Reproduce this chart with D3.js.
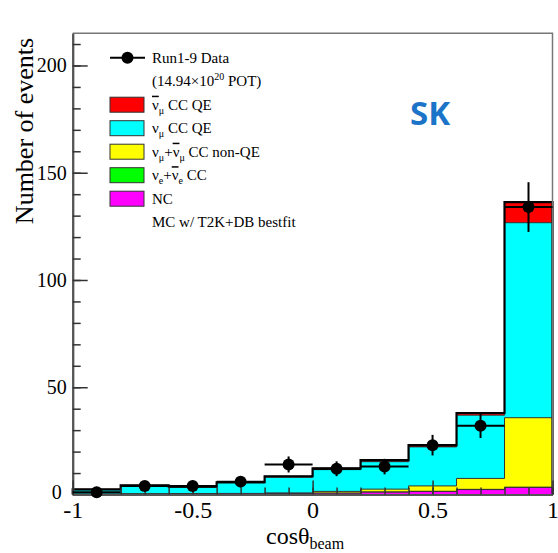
<!DOCTYPE html>
<html>
<head>
<meta charset="utf-8">
<script src="https://cdn.jsdelivr.net/npm/d3@7"></script>
<style>
  body { margin: 0; background: #fff; }
  svg text { font-family: "Liberation Serif", "Times New Roman", serif; }
</style>
</head>
<body>
<div id="chart"></div>
<script>
// bin edges in cos(theta_beam)
var binEdges = [-1, -0.8, -0.6, -0.4, -0.2, 0, 0.2, 0.4, 0.6, 0.8, 1];

// MC components per bin (not stacked), bottom to top
var ncVals      = [0.1, 0.2, 0.2, 0.3, 0.4, 0.6, 1.1, 1.4, 2.3, 3.3];
var nueVals     = [0, 0, 0, 0, 0.05, 0.05, 0.1, 0.1, 0.1, 0.1];
var nonQEVals   = [0.1, 0.1, 0.2, 0.2, 0.3, 0.8, 1.3, 2.5, 5.1, 32.4];
var numuQEVals  = [2.0, 3.7, 3.0, 4.9, 7.25, 10.15, 12.8, 18.2, 29.5, 90.9];
var numubQEVals = [0.2, 0.3, 0.3, 0.3, 0.5, 0.6, 0.7, 0.8, 1.0, 9.6];

// data points
var dataCounts = [1, 4, 4, 6, 14, 12, 13, 23, 32, 134];
var dataErrors = [1, 2, 2, 2.45, 3.74, 3.46, 3.61, 4.8, 5.66, 11.58];

var xTicks = [-1, -0.5, 0, 0.5, 1];
var yTicks = [0, 50, 100, 150, 200];

var width = 558, height = 553;

var x = d3.scaleLinear().domain([-1, 1]).range([72.7, 552.5]);
var y = d3.scaleLinear().domain([0, 215]).range([494.5, 33.3]);

var svg = d3.select("#chart").append("svg")
    .attr("width", width)
    .attr("height", height);

// stack the components
var layers = [
    {vals: ncVals, color: "#ff00ff"},
    {vals: nueVals, color: "#00ff00"},
    {vals: nonQEVals, color: "#ffff00"},
    {vals: numuQEVals, color: "#00ffff"},
    {vals: numubQEVals, color: "#ff0000"}
];
var running = binEdges.slice(1).map(function() { return 0; });
layers.forEach(function(l) {
    l.cum = running.map(function(r, i) { return r + l.vals[i]; });
    running = l.cum;
});

function stepPoints(cum) {
    var pts = [];
    for (var i = 0; i < cum.length; i++) {
        pts.push([binEdges[i], cum[i]]);
        pts.push([binEdges[i + 1], cum[i]]);
    }
    return pts;
}

var area = d3.area()
    .x(function(d) { return x(d[0]); })
    .y0(y(0))
    .y1(function(d) { return y(d[1]); });

var line = d3.line()
    .x(function(d) { return x(d[0]); })
    .y(function(d) { return y(d[1]); });

var hist = svg.append("g");
// draw from the top cumulative down so lower layers sit in front
layers.slice().reverse().forEach(function(l) {
    hist.append("path")
        .attr("d", area(stepPoints(l.cum)))
        .attr("fill", l.color)
        .attr("stroke", "#333")
        .attr("stroke-width", 1);
});

// total outline
var total = layers[layers.length - 1].cum;
var outline = [[binEdges[0], 0]].concat(stepPoints(total)).concat([[binEdges[binEdges.length - 1], 0]]);
hist.append("path")
    .attr("d", line(outline))
    .attr("fill", "none")
    .attr("stroke", "#000")
    .attr("stroke-width", 2.2);

// frame: top and right
svg.append("path")
    .attr("d", "M" + x(-1) + "," + y(215) + "H" + x(1) + "V" + y(0))
    .attr("fill", "none")
    .attr("stroke", "#777")
    .attr("stroke-width", 1.5);

// y axis
var yMajor = d3.axisLeft(y).tickValues(yTicks).tickSizeInner(-15).tickSizeOuter(0)
    .tickPadding(6).tickFormat(function(d) { return String(d); });
var yMinor = d3.axisLeft(y).tickValues(d3.range(0, 215, 10)).tickSizeInner(-8).tickSizeOuter(0)
    .tickFormat("");

var gy = svg.append("g").attr("transform", "translate(" + x(-1) + ",0)").call(yMajor);
svg.append("g").attr("transform", "translate(" + x(-1) + ",0)").call(yMinor);
gy.attr("font-family", null).attr("font-size", null);
gy.selectAll("text")
    .style("font-family", "'Liberation Serif', serif")
    .style("font-size", "20px")
    .attr("fill", "#000");
// keep the "0" clear of the "-1" below it
gy.selectAll(".tick").filter(function(d) { return d === 0; }).select("text")
    .attr("x", -11).attr("dy", "0.2em");

// x axis
var xMajor = d3.axisBottom(x).tickValues(xTicks).tickSizeInner(-14).tickSizeOuter(0)
    .tickPadding(6).tickFormat(function(d) { return String(d); });
var xMinor = d3.axisBottom(x).tickValues(d3.range(-10, 11).map(function(i) { return i / 10; }))
    .tickSizeInner(-7).tickSizeOuter(0).tickFormat("");

var gx = svg.append("g").attr("transform", "translate(0," + y(0) + ")").call(xMajor);
svg.append("g").attr("transform", "translate(0," + y(0) + ")").call(xMinor);
gx.attr("font-family", null).attr("font-size", null);
gx.selectAll("text")
    .style("font-family", "'Liberation Serif', serif")
    .style("font-size", "24px")
    .attr("fill", "#000");

svg.selectAll(".domain").attr("stroke", "#555").attr("stroke-width", 2);
svg.selectAll(".tick line").attr("stroke", "#333").attr("stroke-width", 1.5);

// axis titles
svg.append("text")
    .attr("transform", "translate(33,131) rotate(-90)")
    .attr("text-anchor", "middle")
    .style("font-size", "26px")
    .text("Number of events");

var xt = svg.append("text")
    .attr("x", 266)
    .attr("y", 544)
    .style("font-size", "24px");
xt.append("tspan").text("cos\u03b8");
xt.append("tspan").attr("dy", 5).style("font-size", "16px").text("beam");

// data points
var binCenters = dataCounts.map(function(d, i) { return (binEdges[i] + binEdges[i + 1]) / 2; });
var pts = svg.append("g");
dataCounts.forEach(function(c, i) {
    pts.append("line")
        .attr("x1", x(binEdges[i])).attr("x2", x(binEdges[i + 1]))
        .attr("y1", y(c)).attr("y2", y(c))
        .attr("stroke", "#000").attr("stroke-width", 2);
    pts.append("line")
        .attr("x1", x(binCenters[i])).attr("x2", x(binCenters[i]))
        .attr("y1", y(c - dataErrors[i])).attr("y2", y(c + dataErrors[i]))
        .attr("stroke", "#000").attr("stroke-width", 2);
    pts.append("circle")
        .attr("cx", x(binCenters[i])).attr("cy", y(c))
        .attr("r", 6).attr("fill", "#000");
});

// legend
var legend = svg.append("g").style("font-size", "15px");
var rowY = [57.7, 81.2, 104.7, 128.2, 151.7, 175.2, 198.7, 222.2];
var textX = 152;

legend.append("line")
    .attr("x1", 110).attr("x2", 145).attr("y1", rowY[0]).attr("y2", rowY[0])
    .attr("stroke", "#000").attr("stroke-width", 2);
legend.append("circle").attr("cx", 127.5).attr("cy", rowY[0]).attr("r", 6).attr("fill", "#000");

function legText(row) {
    return legend.append("text").attr("x", textX).attr("y", rowY[row] + 5);
}
function nu(t, sub, bar) {
    var s = t.append("tspan").text("\u03bd");
    if (bar) s.style("text-decoration", "overline");
    t.append("tspan").attr("dy", 4).style("font-size", "10px").text(sub);
    return t.append("tspan").attr("dy", -4);
}

legText(0).text("Run1-9 Data");
var pot = legText(1).text("(14.94\u00d710");
pot.append("tspan").attr("dy", -6).style("font-size", "10px").text("20");
pot.append("tspan").attr("dy", 6).text(" POT)");

var boxColors = ["#ff0000", "#00ffff", "#ffff00", "#00ff00", "#ff00ff"];
boxColors.forEach(function(c, i) {
    legend.append("rect")
        .attr("x", 110).attr("y", rowY[i + 2] - 7.5)
        .attr("width", 34).attr("height", 15)
        .attr("fill", c).attr("stroke", "#333").attr("stroke-width", 1);
});

nu(legText(2), "\u03bc", true).text(" CC QE");
nu(legText(3), "\u03bc", false).text(" CC QE");
var t4 = legText(4);
nu(t4, "\u03bc", false).text("+");
nu(t4, "\u03bc", true).text(" CC non-QE");
var t5 = legText(5);
nu(t5, "e", false).text("+");
nu(t5, "e", true).text(" CC");
legText(6).text("NC");
legText(7).text("MC w/ T2K+DB bestfit");

// detector label
svg.append("text")
    .attr("x", 410)
    .attr("y", 125)
    .style("font-family", "'Open Sans', sans-serif")
    .style("font-weight", "bold")
    .style("font-size", "33px")
    .attr("fill", "#1b74c8")
    .text("SK");
</script>
</body>
</html>
